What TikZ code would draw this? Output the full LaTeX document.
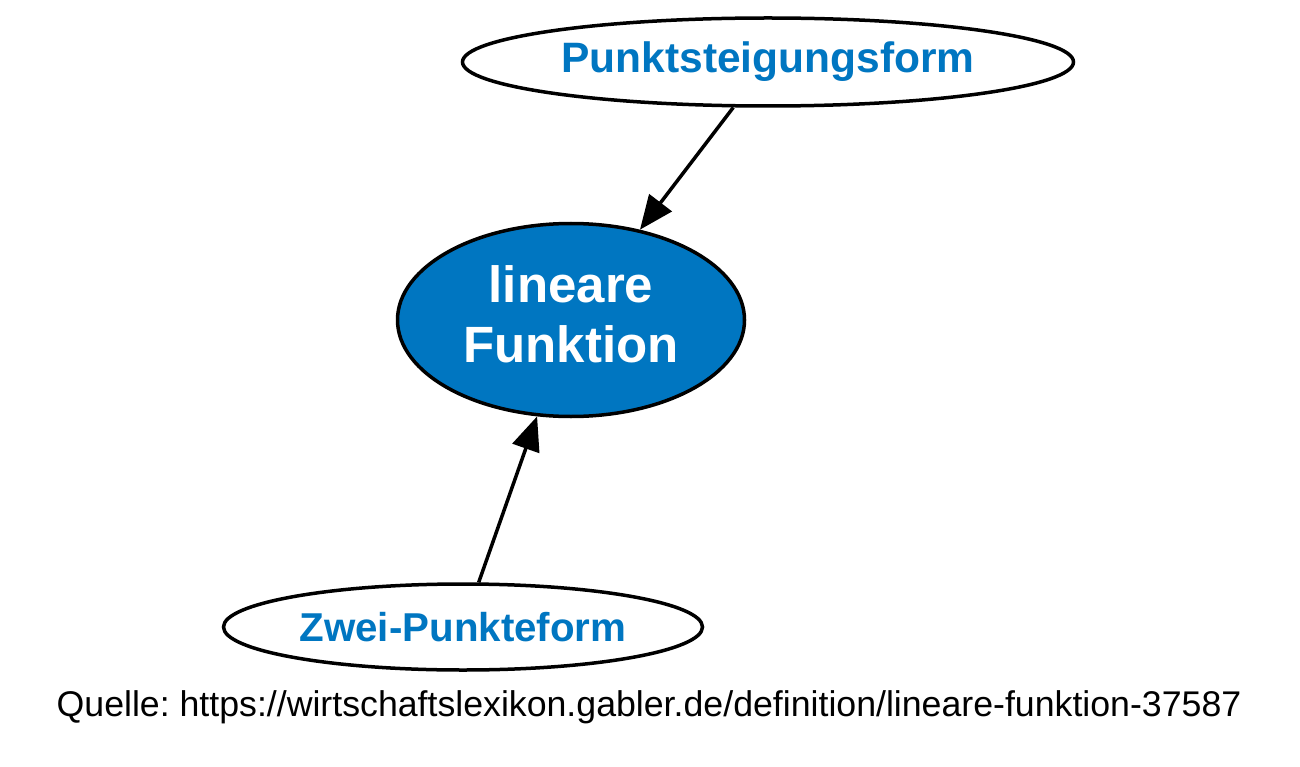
\documentclass[tikz,border=0pt]{standalone}
\usepackage{fontspec}
\setmainfont{Liberation Sans}
\usetikzlibrary{shapes.geometric,arrows.meta}
\definecolor{gblue}{RGB}{0,118,193}
\tikzset{
  ell/.style={ellipse, draw=black, line width=3.5pt, inner sep=0pt},
  side/.style={ell, fill=white, text=gblue},
  main/.style={ell, fill=gblue, text=white, font=\fontsize{51}{60}\selectfont\bfseries, align=center, text depth=12pt},
  conn/.style={line width=3.5pt, -{Triangle[length=34pt,width=28pt]}}
}
\begin{document}
\frenchspacing
\begin{tikzpicture}[x=1pt,y=-1pt]
\useasboundingbox (0,0) rectangle (1300,767);
\node[side, minimum width=611pt, minimum height=88pt, font=\fontsize{42.5}{48}\selectfont\bfseries] (P) at (768,62) {Punktsteigungsform};
\node[main, minimum width=347pt, minimum height=193pt] (L) at (571,320) {lineare\\Funktion};
\node[side, minimum width=479pt, minimum height=86pt, font=\fontsize{40.3}{48}\selectfont\bfseries] (Z) at (463,627) {Zwei-Punkteform};
\node[font=\fontsize{35.7}{40}\selectfont, text=black] (Q) at (649,707) {Quelle: https://wirtschaftslexikon.gabler.de/definition/lineare-funktion-37587};
\draw[conn] (P) -- (L);
\draw[conn] (Z) -- (L);
\end{tikzpicture}
\end{document}
